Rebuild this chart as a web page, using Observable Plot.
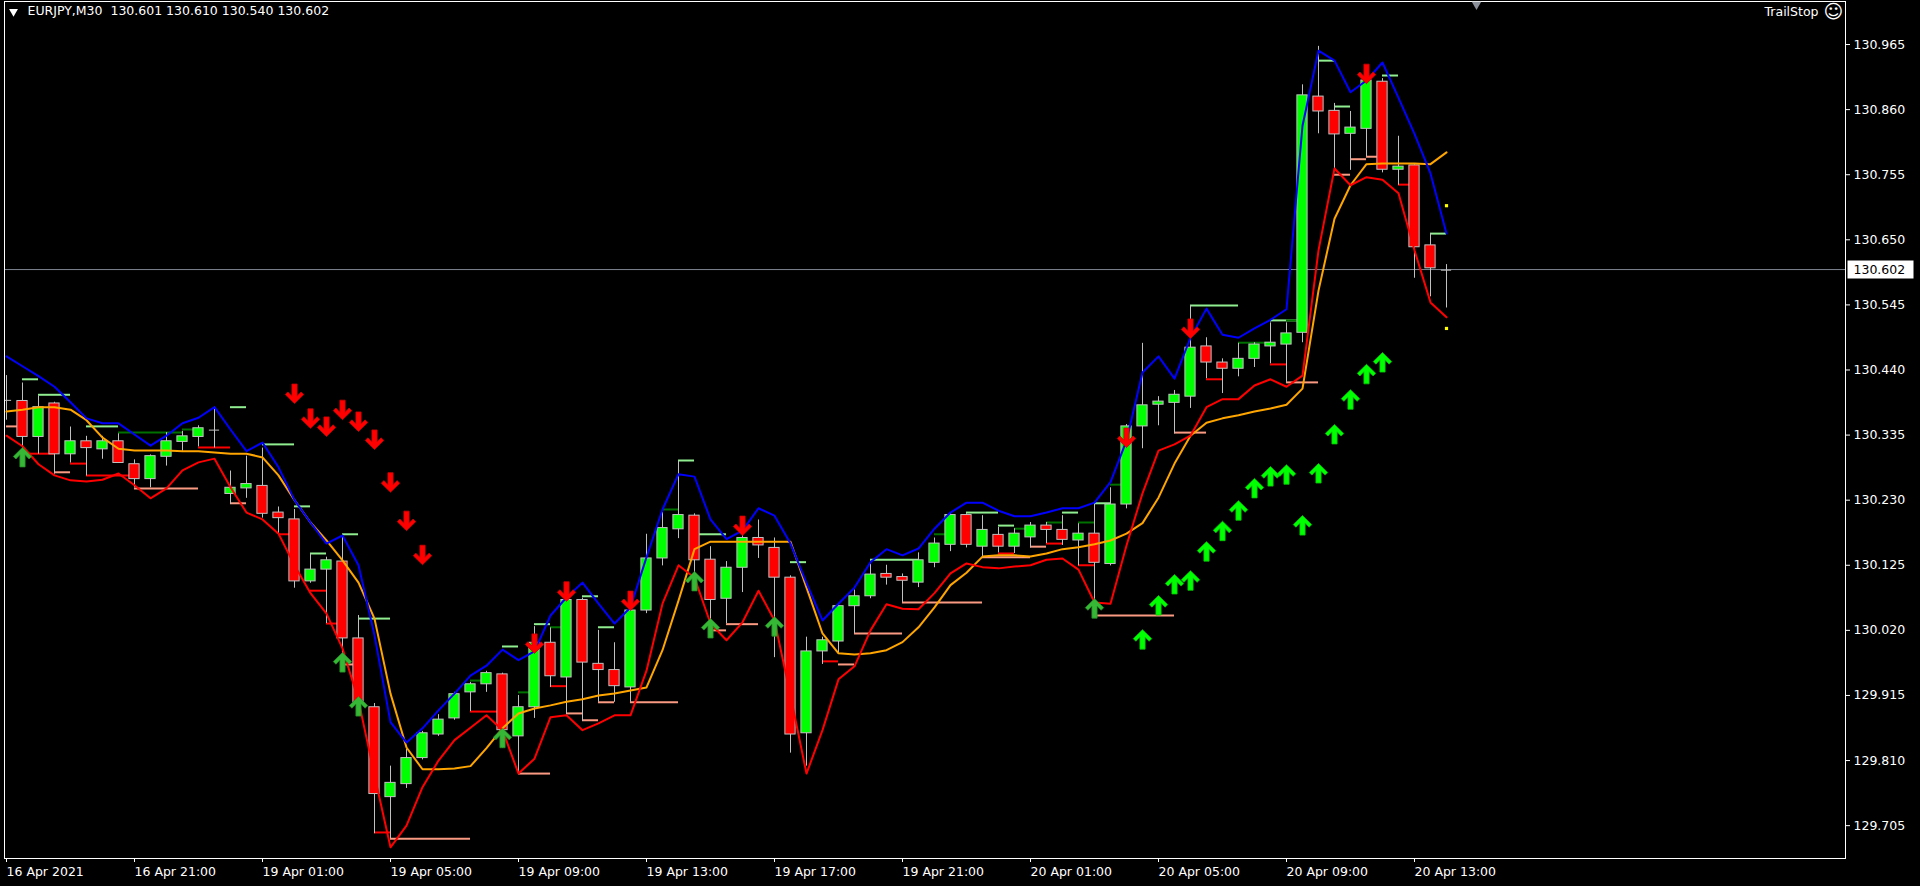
<!DOCTYPE html>
<html><head><meta charset="utf-8">
<script src="https://cdn.jsdelivr.net/npm/d3@7"></script>
<script src="https://cdn.jsdelivr.net/npm/@observablehq/plot@0.6"></script>
<style>
html,body{margin:0;padding:0;background:#000;overflow:hidden}
#chart svg{display:block}
</style></head><body><div id="chart"></div>
<script>
// ---- EURJPY M30 bars (index 0 = 16 Apr 2021 17:00) ----
const openP = [130.391,130.390,130.332,130.386,130.304,130.325,130.312,130.325,130.288,130.264,
130.300,130.324,130.332,130.343,130.240,130.249,130.253,130.210,130.199,130.099,
130.118,130.131,130.007,129.896,129.751,129.772,129.814,129.852,129.878,129.920,
129.933,129.949,129.849,129.896,130.000,129.944,130.069,129.966,129.956,129.928,
130.052,130.136,130.183,130.205,130.134,130.071,130.121,130.169,130.153,130.105,
129.854,129.986,130.002,130.059,130.075,130.111,130.106,130.097,130.129,130.158,
130.206,130.155,130.174,130.155,130.170,130.189,130.182,130.165,130.176,130.127,
130.223,130.349,130.384,130.387,130.397,130.478,130.452,130.442,130.458,130.478,
130.481,130.500,130.881,130.858,130.821,130.829,130.905,130.763,130.770,130.641,
130.601];
const highP = [130.431,130.419,130.398,130.388,130.348,130.333,130.333,130.337,130.295,130.303,
130.339,130.341,130.350,130.380,130.277,130.301,130.314,130.219,130.215,130.143,
130.138,130.173,130.044,129.902,129.801,129.828,129.857,129.884,129.920,129.936,
129.954,129.951,129.915,130.026,130.024,130.075,130.072,130.020,130.000,130.067,
130.175,130.210,130.293,130.208,130.155,130.131,130.173,130.198,130.169,130.108,
130.009,130.009,130.063,130.085,130.127,130.125,130.111,130.145,130.169,130.210,
130.208,130.205,130.186,130.184,130.194,130.194,130.205,130.192,130.226,130.250,
130.352,130.483,130.397,130.407,130.544,130.492,130.458,130.483,130.484,130.516,
130.516,130.900,130.962,130.870,130.857,130.909,130.910,130.817,130.771,130.660,
130.610];
const lowP = [130.359,130.312,130.304,130.272,130.290,130.269,130.296,130.290,130.250,130.250,
130.285,130.309,130.316,130.314,130.223,130.233,130.201,130.175,130.088,130.096,
130.031,129.983,129.888,129.692,129.684,129.765,129.811,129.849,129.875,129.889,
129.920,129.830,129.788,129.878,129.928,129.884,129.873,129.904,129.904,129.904,
130.047,130.124,130.168,130.096,130.018,130.031,130.081,130.136,129.976,129.822,
129.801,129.965,129.983,130.015,130.071,130.093,130.065,130.089,130.121,130.147,
130.153,130.136,130.145,130.144,130.153,130.160,130.157,130.124,130.065,130.124,
130.216,130.313,130.350,130.337,130.378,130.426,130.402,130.429,130.444,130.450,
130.420,130.484,130.821,130.765,130.762,130.784,130.758,130.738,130.588,130.558,
130.540];
const closeP = [130.392,130.332,130.380,130.304,130.325,130.314,130.325,130.290,130.264,130.301,
130.325,130.333,130.346,130.344,130.250,130.256,130.208,130.201,130.099,130.118,
130.133,130.007,129.904,129.756,129.774,129.814,129.854,129.876,129.917,129.933,
129.951,129.859,129.896,130.000,129.946,130.069,129.968,129.956,129.930,130.052,
130.136,130.185,130.206,130.133,130.069,130.121,130.169,130.157,130.105,129.852,
129.986,130.004,130.059,130.075,130.110,130.105,130.100,130.133,130.160,130.206,
130.158,130.182,130.155,130.176,130.189,130.182,130.166,130.176,130.129,130.223,
130.349,130.383,130.389,130.400,130.476,130.452,130.442,130.458,130.481,130.484,
130.499,130.883,130.857,130.820,130.831,130.907,130.763,130.768,130.638,130.604,
130.602];

// ---- indicator lines ----
const upperBand = [130.462,130.446,130.430,130.413,130.388,130.362,130.354,130.354,130.336,130.318,
130.334,130.354,130.363,130.380,130.344,130.309,130.323,130.283,130.230,130.194,
130.160,130.173,130.125,130.012,129.872,129.839,129.862,129.891,129.918,129.947,
129.963,129.989,129.972,129.986,130.044,130.073,130.097,130.063,130.031,130.057,
130.138,130.215,130.272,130.268,130.199,130.167,130.181,130.217,130.205,130.160,
130.096,130.036,130.063,130.089,130.130,130.151,130.141,130.152,130.184,130.210,
130.226,130.226,130.213,130.204,130.204,130.210,130.217,130.217,130.226,130.259,
130.326,130.436,130.462,130.426,130.492,130.539,130.497,130.492,130.507,130.521,
130.538,130.834,130.955,130.939,130.888,130.907,130.936,130.879,130.821,130.757,
130.660];
const lowerBand = [130.334,130.317,130.288,130.270,130.262,130.260,130.263,130.273,130.254,130.233,
130.249,130.278,130.291,130.297,130.251,130.210,130.199,130.176,130.125,130.080,
130.047,129.991,129.907,129.786,129.670,129.705,129.767,129.810,129.843,129.863,
129.883,129.859,129.789,129.813,129.880,129.883,129.859,129.870,129.883,129.883,
129.955,130.063,130.125,130.105,130.031,130.004,130.033,130.084,130.036,129.915,
129.789,129.859,129.941,129.962,130.020,130.062,130.055,130.054,130.080,130.112,
130.128,130.122,130.120,130.123,130.125,130.134,130.136,130.118,130.065,130.063,
130.157,130.241,130.310,130.320,130.334,130.380,130.393,130.393,130.415,130.425,
130.413,130.431,130.633,130.765,130.738,130.751,130.747,130.725,130.633,130.549,
130.525];
const midLine = [130.373,130.376,130.380,130.380,130.376,130.359,130.331,130.313,130.310,130.310,
130.310,130.309,130.309,130.307,130.305,130.305,130.299,130.270,130.230,130.194,
130.165,130.133,130.097,130.039,129.918,129.831,129.796,129.796,129.797,129.801,
129.830,129.862,129.886,129.894,129.899,129.905,129.909,129.915,129.918,129.923,
129.928,129.988,130.068,130.151,130.163,130.163,130.163,130.163,130.163,130.163,
130.089,130.015,129.983,129.981,129.983,129.988,130.001,130.025,130.057,130.093,
130.113,130.139,130.141,130.141,130.139,130.144,130.151,130.154,130.159,130.165,
130.176,130.193,130.234,130.289,130.334,130.355,130.362,130.367,130.373,130.378,
130.384,130.410,130.568,130.684,130.738,130.772,130.773,130.773,130.773,130.772,
130.791];

// ---- arrows ----
const sellArrowBar   = [18,19,20,21,22,23,24,25,26,33,35,39,46,70,74,85];
const sellArrowPrice = [130.402,130.362,130.349,130.376,130.357,130.328,130.259,130.197,130.142,
                        129.999,130.083,130.068,130.189,130.331,130.507,130.918];
const buyArrowBar    = [1,21,22,31,43,44,48,68];
const buyArrowPrice  = [130.299,129.968,129.897,129.846,130.099,130.023,130.026,130.055];
const trendArrowBar  = [71,72,73,74,75,76,77,78,79,80,81,82,83,84,85,86];
const trendArrowPrice= [130.005,130.060,130.094,130.100,130.147,130.180,130.213,130.249,130.268,130.271,
                        130.189,130.273,130.336,130.392,130.433,130.452];

// ---- TrailStop level stubs ----
const stubFrom  = [1,2,5,14,16,18,19,21,22,31,33,36,37,42,43,49,54,60,62,66,68,74,79,82,83,86,89,
                   7,11,29,32,34,41,58,63,65,67,69,77,80,
                   0,3,8,14,21,24,32,35,36,37,39,44,45,52,53,56,61,64,68,73,80,83,84,85,
                   1,4,5,12,17,19,20,23,29,34,51,62,65,67,75,79,87];
const stubTo    = [2,4,7,15,18,19,20,22,24,32,34,37,38,43,45,50,57,62,63,67,69,77,81,83,84,87,90,
                   11,12,30,33,35,42,59,64,66,68,70,79,81,
                   1,4,12,15,22,29,34,36,37,38,42,45,47,53,56,61,64,65,73,75,82,84,85,86,
                   3,5,8,14,18,20,21,24,31,35,52,63,66,68,76,80,88];
const stubLevel = [130.425,130.400,130.349,130.380,130.320,130.220,130.144,130.175,130.039,129.994,130.030,130.075,130.025,130.294,130.175,130.130,130.134,130.210,130.189,130.210,130.225,130.544,130.520,130.939,130.865,130.915,130.660,
                   130.339,130.344,129.939,129.920,130.025,130.215,130.175,130.184,130.194,130.194,130.255,130.484,130.520,
                   130.349,130.275,130.249,130.225,129.965,129.684,129.789,129.886,129.875,129.904,129.904,130.020,130.030,129.965,130.015,130.065,130.138,130.155,130.044,130.339,130.420,130.755,130.780,130.784,
                   130.305,130.289,130.270,130.315,130.175,130.084,130.031,129.694,129.889,129.930,129.970,130.144,130.160,130.125,130.425,130.449,130.739];
const stubKind  = [].concat(Array(27).fill("high"), Array(13).fill("mid"), Array(24).fill("low"), Array(17).fill("stop"));

const yellowBar   = [90, 90];
const yellowPrice = [130.705, 130.507];

// ---- axes ----
const timeTicks  = [0,8,16,24,32,40,48,56,64,72,80,88];
const timeLabels = ["16 Apr 2021","16 Apr 21:00","19 Apr 01:00","19 Apr 05:00","19 Apr 09:00","19 Apr 13:00",
                    "19 Apr 17:00","19 Apr 21:00","20 Apr 01:00","20 Apr 05:00","20 Apr 09:00","20 Apr 13:00"];
const priceTicks = [130.965,130.860,130.755,130.650,130.545,130.440,130.335,130.230,130.125,130.020,129.915,129.810,129.705];

// ---- build tables ----
const bars = openP.map((o, i) => ({i, o, h: highP[i], l: lowP[i], c: closeP[i],
  up: upperBand[i], lo: lowerBand[i], mid: midLine[i]}));
const isDoji = d => Math.abs(d.c - d.o) < 0.0015;
const bulls = bars.filter(d => !isDoji(d) && d.c > d.o);
const bears = bars.filter(d => !isDoji(d) && d.c < d.o);
const dojis = bars.filter(isDoji);
const stubs = stubFrom.map((a, k) => ({a, b: stubTo[k], p: stubLevel[k], kind: stubKind[k]}));
const sells = sellArrowBar.map((i, k) => ({i, p: sellArrowPrice[k]}));
const buys = buyArrowBar.map((i, k) => ({i, p: buyArrowPrice[k]}));
const trends = trendArrowBar.map((i, k) => ({i, p: trendArrowPrice[k]}));
const yellows = yellowBar.map((i, k) => ({i, p: yellowPrice[k]}));
const labelOf = new Map(timeTicks.map((t, k) => [t, timeLabels[k]]));
const last = bars[bars.length - 1];

function arrowSymbol(dir) {
  const pts = [[-2.6,-9.5],[2.6,-9.5],[2.6,2.6],[6.6,-1.6],[9.2,1],[0,10],[-9.2,1],[-6.6,-1.6],[-2.6,2.6]];
  return {draw(ctx, size) {
    const s = Math.sqrt(size / Math.PI) / 9;
    pts.forEach(([x, y], k) => { const X = x * s, Y = y * s * dir; k ? ctx.lineTo(X, Y) : ctx.moveTo(X, Y); });
    ctx.closePath();
  }};
}
const arrowDown = arrowSymbol(1), arrowUp = arrowSymbol(-1);
const priceBox = {draw(ctx) { ctx.rect(2, -9, 66, 18); }};

const HW = 0.32;
const stubColors = {high: "#90ee90", mid: "#007000", low: "#fa9a82", stop: "#ff0000"};
const FONT = "DejaVu Sans";
const header = `EURJPY,M30\u00a0\u00a0${last.o.toFixed(3)} ${last.h.toFixed(3)} ${last.l.toFixed(3)} ${last.c.toFixed(3)}`;

const chart = Plot.plot({
  width: 1920, height: 886,
  marginLeft: 4, marginRight: 75, marginTop: 1, marginBottom: 28,
  x: {domain: [-0.125, 114.9375], axis: null},
  y: {domain: [129.652, 131.0344], axis: null},
  style: {background: "#000", color: "#fff", fontFamily: FONT},
  marks: [
    Plot.ruleY([last.c], {stroke: "#7d8590", strokeWidth: 1}),
    ...Object.keys(stubColors).map(k =>
      Plot.ruleY(stubs.filter(d => d.kind === k), {y: "p", x1: "a", x2: "b", stroke: stubColors[k], strokeWidth: 2, clip: true})),
    Plot.ruleX(bars, {x: "i", y1: "l", y2: "h", stroke: "#c0c0c0", strokeWidth: 1, clip: true}),
    Plot.rect(bulls, {x1: d => d.i - HW, x2: d => d.i + HW, y1: "o", y2: "c", fill: "#00ff00", stroke: "#c0c0c0", strokeWidth: 1, clip: true}),
    Plot.rect(bears, {x1: d => d.i - HW, x2: d => d.i + HW, y1: "o", y2: "c", fill: "#ff0000", stroke: "#c0c0c0", strokeWidth: 1, clip: true}),
    Plot.ruleY(dojis, {y: "o", x1: d => d.i - HW, x2: d => d.i + HW, stroke: "#c0c0c0", strokeWidth: 1, clip: true}),
    Plot.line(bars, {x: "i", y: "mid", stroke: "#ffa500", strokeWidth: 2, clip: true}),
    Plot.line(bars, {x: "i", y: "lo", stroke: "#ff0000", strokeWidth: 2, clip: true}),
    Plot.line(bars, {x: "i", y: "up", stroke: "#0000ff", strokeWidth: 2, clip: true}),
    Plot.dot(sells, {x: "i", y: "p", symbol: arrowDown, r: 9, fill: "#ff0000", stroke: "#d00000", strokeWidth: 0.8}),
    Plot.dot(buys, {x: "i", y: "p", symbol: arrowUp, r: 9, fill: "#36b836", stroke: "#248f24", strokeWidth: 0.8}),
    Plot.dot(trends, {x: "i", y: "p", symbol: arrowUp, r: 9, fill: "#00ff00", stroke: "#00c800", strokeWidth: 0.8}),
    Plot.dot(yellows, {x: "i", y: "p", symbol: "square", r: 1.8, fill: "#ffff00"}),
    Plot.frame({stroke: "#ffffff"}),
    Plot.axisY(priceTicks, {anchor: "right", tickSize: 4, tickPadding: 4, tickFormat: d => d.toFixed(3),
      fontSize: 12.5, color: "#ffffff", label: null}),
    Plot.axisX(timeTicks, {anchor: "bottom", tickSize: 4, tickPadding: 5, tickFormat: d => labelOf.get(d),
      textAnchor: "start", fontSize: 12.5, color: "#ffffff", label: null}),
    Plot.dot([last.c], {y: d => d, frameAnchor: "right", symbol: priceBox, r: 5, fill: "#ffffff"}),
    Plot.text([last.c], {y: d => d, frameAnchor: "right", dx: 8, text: d => d.toFixed(3), textAnchor: "start",
      fill: "#000000", fontSize: 12.5}),
    Plot.text([header], {frameAnchor: "top-left", dx: 23, dy: 5, textAnchor: "start", lineAnchor: "top",
      fill: "#ffffff", fontSize: 12.5}),
    Plot.dot([0], {frameAnchor: "top-left", dx: 9, dy: 10, symbol: "triangle", rotate: 180, r: 3.3, fill: "#ffffff"}),
    Plot.dot([0], {frameAnchor: "top-left", dx: 1472, dy: 3, symbol: "triangle", rotate: 180, r: 3.5, fill: "#8a8f99"}),
    Plot.text(["TrailStop"], {frameAnchor: "top-right", dx: -27, dy: 6, textAnchor: "end", lineAnchor: "top",
      fill: "#ffffff", fontSize: 12.5}),
    Plot.text(["\u263A"], {frameAnchor: "top-right", dx: -12, dy: 3, textAnchor: "middle", lineAnchor: "top",
      fill: "#ffffff", fontSize: 19})
  ]
});
document.getElementById("chart").appendChild(chart);
</script>
</body></html>
